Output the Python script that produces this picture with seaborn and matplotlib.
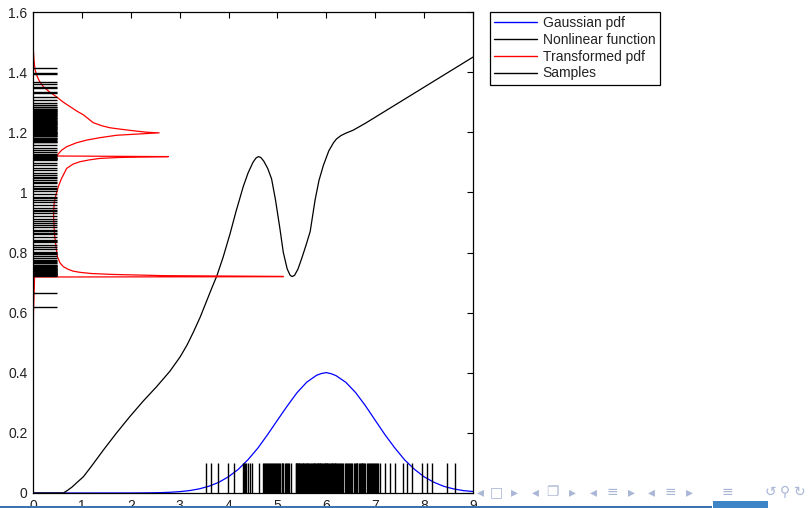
import numpy as np
import pandas as pd
import matplotlib
matplotlib.use("Agg")
import matplotlib.pyplot as plt
import seaborn as sns
from matplotlib.lines import Line2D
from matplotlib.patches import Rectangle

# ---------------- data ----------------
gauss_x = [0.0, 2.0, 2.2, 2.4, 2.6, 2.8, 3.0, 3.2, 3.4, 3.6, 3.8, 4.0, 4.2, 4.4, 4.6,
           4.8, 5.0, 5.2, 5.4, 5.6, 5.8, 5.9, 6.0, 6.1, 6.2, 6.4, 6.6, 6.8, 7.0, 7.2,
           7.4, 7.6, 7.8, 8.0, 8.2, 8.4, 8.6, 8.8, 9.0]
gauss_pdf = [0.0, 0.0001, 0.0003, 0.0006, 0.0012, 0.0024, 0.0045, 0.0080, 0.0137, 0.0226,
             0.0355, 0.0542, 0.0788, 0.1112, 0.1495, 0.1946, 0.2423, 0.2893, 0.3336,
             0.3688, 0.3915, 0.3975, 0.4005, 0.3968, 0.3902, 0.3680, 0.3338, 0.2902,
             0.2418, 0.1938, 0.1500, 0.1105, 0.0792, 0.0538, 0.0357, 0.0223, 0.0137,
             0.0080, 0.0050]

nl_x = [0.0, 0.62, 0.70, 0.80, 0.90, 1.03, 1.20, 1.44, 1.70, 1.98, 2.25, 2.53, 2.80,
        3.01, 3.15, 3.28, 3.42, 3.55, 3.66, 3.76, 3.89, 4.03, 4.15, 4.30, 4.40, 4.50,
        4.56, 4.61, 4.66, 4.72, 4.80, 4.88, 4.96, 5.05, 5.12, 5.20, 5.26, 5.30, 5.35,
        5.42, 5.50, 5.58, 5.67, 5.77, 5.85, 5.94, 6.05, 6.15, 6.21, 6.30, 6.40, 6.55,
        6.80, 7.00, 7.30, 7.57, 8.00, 8.50, 9.00]
nl_y = [0.0, 0.0, 0.008, 0.020, 0.035, 0.054, 0.090, 0.143, 0.198, 0.254, 0.305,
        0.354, 0.405, 0.453, 0.492, 0.535, 0.585, 0.638, 0.683, 0.722, 0.785, 0.862,
        0.935, 1.019, 1.065, 1.100, 1.114, 1.119, 1.116, 1.104, 1.080, 1.045, 0.975,
        0.880, 0.800, 0.745, 0.724, 0.720, 0.724, 0.745, 0.782, 0.822, 0.870, 0.975,
        1.040, 1.090, 1.138, 1.166, 1.178, 1.189, 1.197, 1.207, 1.230, 1.250, 1.280,
        1.307, 1.350, 1.400, 1.450]

tr_pdf = [0.0, 0.0, 0.01, 0.03, 0.03, 5.12, 5.12, 2.67, 1.64, 1.20, 0.96, 0.82, 0.72,
          0.62, 0.55, 0.50, 0.47, 0.44, 0.42, 0.43, 0.45, 0.48, 0.52, 0.58, 0.69, 0.82,
          0.96, 1.15, 1.37, 1.75, 2.19, 2.77, 0.48, 0.50, 0.59, 0.69, 0.89, 1.10, 1.37,
          1.71, 2.19, 2.58, 2.33, 2.05, 1.80, 1.57, 1.40, 1.23, 1.13, 1.03, 0.90, 0.76,
          0.62, 0.48, 0.33, 0.21, 0.13, 0.075, 0.04, 0.02, 0.007, 0.0]
tr_y = [0.0, 0.40, 0.60, 0.70, 0.7185, 0.7195, 0.7205, 0.723, 0.727, 0.730, 0.734,
        0.738, 0.744, 0.753, 0.766, 0.786, 0.82, 0.86, 0.92, 0.96, 0.98, 0.997, 1.020,
        1.045, 1.080, 1.094, 1.102, 1.108, 1.113, 1.116, 1.1175, 1.119, 1.121, 1.125,
        1.141, 1.152, 1.165, 1.174, 1.182, 1.190, 1.1945, 1.198, 1.200, 1.205, 1.210,
        1.215, 1.222, 1.232, 1.245, 1.258, 1.270, 1.285, 1.300, 1.318, 1.335, 1.352,
        1.370, 1.390, 1.410, 1.440, 1.474, 1.600]

samples_x = [3.54, 3.65, 3.79, 3.99, 4.12, 4.29, 4.31, 4.34, 4.36, 4.40, 4.44, 4.47,
             4.63, 4.71, 4.73, 4.76, 4.79, 4.82, 4.85, 4.88, 4.90, 4.93, 4.97, 5.01,
             5.04, 5.09, 5.12, 5.15, 5.19, 5.22, 5.27, 5.37, 5.39, 5.42, 5.45, 5.47,
             5.50, 5.53, 5.55, 5.58, 5.61, 5.64, 5.67, 5.71, 5.73, 5.75, 5.78, 5.80,
             5.83, 5.85, 5.88, 5.90, 5.92, 5.95, 5.97, 6.00, 6.02, 6.04, 6.07, 6.09,
             6.12, 6.15, 6.18, 6.21, 6.24, 6.27, 6.30, 6.35, 6.38, 6.42, 6.46, 6.50,
             6.53, 6.56, 6.60, 6.63, 6.66, 6.70, 6.73, 6.76, 6.80, 6.83, 6.87, 6.90,
             6.94, 6.98, 7.02, 7.06, 7.09, 7.20, 7.30, 7.40, 7.57, 7.64, 7.75, 7.95,
             8.05, 8.16, 8.46, 8.63,
             4.74, 4.81, 4.86, 4.95, 4.99, 5.06, 5.10, 5.17, 5.24, 5.38, 5.41, 5.44,
             5.49, 5.52, 5.57, 5.60, 5.63, 5.69, 5.74, 5.76, 5.82, 5.87, 5.93, 5.98,
             6.01, 6.06, 6.11, 6.14, 6.17, 6.20, 6.26, 6.33, 6.40, 6.44, 6.48, 6.58,
             6.62, 6.68, 6.72, 6.78, 6.85, 6.92, 6.96, 7.00, 7.04]
samples_y = [1.413, 1.398, 1.394, 1.368, 1.361, 1.352, 1.346, 1.335, 1.330, 1.318,
             1.307, 1.298, 1.291, 1.284, 1.279, 1.275, 1.270, 1.265, 1.261, 1.256,
             1.250, 1.246, 1.241, 1.237, 1.232, 1.228, 1.224, 1.219, 1.215, 1.212,
             1.208, 1.205, 1.202, 1.199, 1.196, 1.193, 1.190, 1.186, 1.182, 1.177,
             1.172, 1.166, 1.158, 1.148, 1.141, 1.134, 1.126, 1.122, 1.119, 1.116,
             1.112, 1.108, 1.098, 1.090, 1.082, 1.075, 1.066, 1.058, 1.047, 1.040,
             1.031, 1.022, 1.012, 1.003, 0.995, 0.986, 0.975, 0.968, 0.958, 0.949,
             0.942, 0.931, 0.921, 0.913, 0.904, 0.892, 0.884, 0.875, 0.866, 0.860,
             0.851, 0.843, 0.835, 0.826, 0.818, 0.810, 0.803, 0.795, 0.789, 0.782,
             0.776, 0.770, 0.765, 0.760, 0.756, 0.752, 0.748, 0.744, 0.741, 0.738,
             0.735, 0.732, 0.730, 0.727, 0.725, 0.723, 0.666, 0.620,
             1.283, 1.277, 1.272, 1.268, 1.263, 1.258, 1.253, 1.248, 1.243, 1.239,
             1.234, 1.230, 1.226, 1.221, 1.217, 1.210, 1.200, 1.194, 1.188, 1.180,
             1.175, 1.169, 1.124, 1.114, 1.110, 0.758, 0.754, 0.750, 0.746, 0.742,
             0.739, 0.736, 0.733, 0.729, 0.726, 0.724, 1.052, 1.036, 1.016, 0.980,
             0.937, 0.897, 0.870, 0.838, 0.800, 0.773]

x_ticks = [0, 1, 2, 3, 4, 5, 6, 7, 8, 9]
x_tick_labels = ["0", "1", "2", "3", "4", "5", "6", "7", "8", "9"]
y_ticks = [0, 0.2, 0.4, 0.6, 0.8, 1.0, 1.2, 1.4, 1.6]
y_tick_labels = ["0", "0.2", "0.4", "0.6", "0.8", "1", "1.2", "1.4", "1.6"]
legend_labels = ["Gaussian pdf", "Nonlinear function", "Transformed pdf", "Samples"]
legend_colors = ["#0000ff", "#000000", "#ff0000", "#000000"]

# ---------------- figure ----------------
sns.set_theme(style="white")
plt.rcParams["font.family"] = ["Liberation Sans", "DejaVu Sans"]

W, H = 808, 508
fig = plt.figure(figsize=(W / 100, H / 100), dpi=100)
ax = fig.add_axes([33 / W, 15 / H, 440 / W, 481 / H])

lw = 0.9
sns.lineplot(x=gauss_x, y=gauss_pdf, ax=ax, color=legend_colors[0], lw=lw,
             sort=False, estimator=None)
sns.lineplot(x=nl_x, y=nl_y, ax=ax, color=legend_colors[1], lw=lw,
             sort=False, estimator=None)
sns.lineplot(x=tr_pdf, y=tr_y, ax=ax, color=legend_colors[2], lw=lw,
             sort=False, estimator=None)
sns.rugplot(x=samples_x, height=0.1 / 1.6, ax=ax, color="black", lw=0.7)
sns.rugplot(y=samples_y, height=0.5 / 9, ax=ax, color="black", lw=0.7)

ax.set_xlim(0, 9)
ax.set_ylim(0, 1.6)
ax.set_xticks(x_ticks)
ax.set_xticklabels(x_tick_labels)
ax.set_yticks(y_ticks)
ax.set_yticklabels(y_tick_labels)
ax.tick_params(axis="both", direction="in", length=4, width=0.8, color="black",
               labelsize=10, labelcolor="#222222", top=True, right=True)
ax.tick_params(axis="x", pad=4)
ax.tick_params(axis="y", pad=4)
for s in ax.spines.values():
    s.set_color("black")
    s.set_linewidth(0.9)
ax.grid(False)

handles = [Line2D([0], [0], color=c, lw=1.0) for c in legend_colors]
leg = fig.legend(handles, legend_labels, loc="upper left",
                 bbox_to_anchor=(490 / W, 1 - 12 / H), borderaxespad=0,
                 fancybox=False, edgecolor="black", framealpha=1, fontsize=10,
                 handlelength=3.1, handletextpad=0.4, labelspacing=0.2,
                 borderpad=0.3)
leg.get_frame().set_linewidth(0.9)
for t in leg.get_texts():
    t.set_color("#222222")

# ---------------- slide decorations (beamer footer) ----------------
fig.add_artist(Rectangle((0, 0), 712 / W, 2.5 / H, transform=fig.transFigure,
                         color="#3b73b0", lw=0))
fig.add_artist(Rectangle((713 / W, 0), 55 / W, 7 / H, transform=fig.transFigure,
                         color="#3d85c6", lw=0))
nav = [("◂", 480), ("□", 496), ("▸", 514), ("◂", 535), ("❐", 552), ("▸", 572),
       ("◂", 593), ("≡", 612), ("▸", 631), ("◂", 651), ("≡", 670), ("▸", 689),
       ("≡", 727), ("↺", 770), ("⚲", 785), ("↻", 800)]
for ch, px in nav:
    fig.text(px / W, 1 - 492 / H, ch, ha="center", va="center", fontsize=10,
             color="#aab6d6", family=["DejaVu Sans"])

fig.savefig("out.png", dpi=100)
